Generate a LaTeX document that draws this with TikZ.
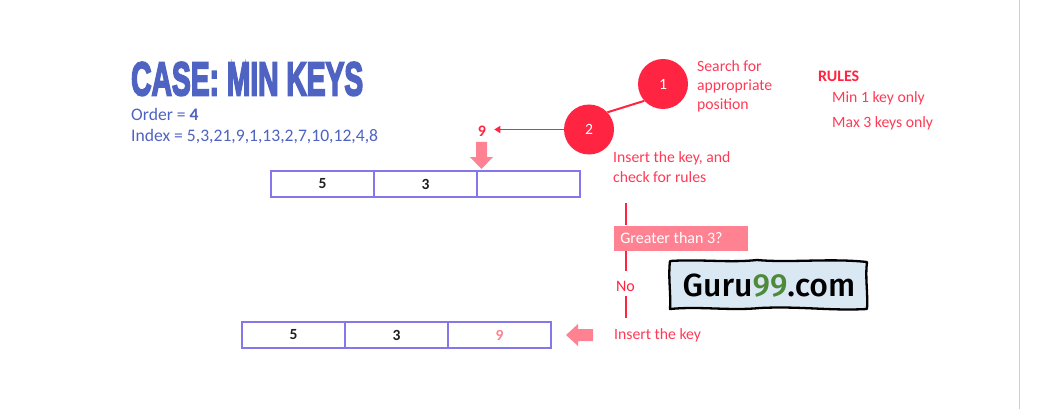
\documentclass[tikz,border=0pt]{standalone}
\usepackage{fontspec}
\usepackage{graphicx}
\usetikzlibrary{arrows.meta}
\setmainfont{Carlito}
\newfontfamily\titlefont[FakeBold=4.5]{Liberation Sans Bold}
\newfontfamily\brandfont{Fira Sans Medium}
\definecolor{redmain}{HTML}{FF2442}
\definecolor{redsoft}{HTML}{FF8292}
\definecolor{cellline}{HTML}{8576EC}
\definecolor{bluetext}{HTML}{4F63C2}
\definecolor{brandbg}{HTML}{DAE8F4}
\definecolor{brandgreen}{HTML}{4E8A3A}
\tikzset{
  x=1pt,y=-1pt,
  cell/.style={draw=cellline,line width=1.3pt,minimum width=103pt,minimum height=26pt,inner sep=0pt,font=\fontsize{15.5}{17}\selectfont\bfseries,text=black!88},
  redtext/.style={anchor=north west,inner sep=0pt,align=left,text=redmain!90,font=\fontsize{15.7}{19}\selectfont},
  bluelabel/.style={anchor=base west,inner sep=0pt,text=bluetext,font=\fontsize{17.6}{20}\selectfont},
  stepdot/.style={circle,fill=redmain,minimum size=50pt,inner sep=0pt,text=white,font=\fontsize{15.7}{18}\selectfont},
  redline/.style={draw=redmain,line width=2pt},
  softarrow/.style={fill=redsoft,draw=none},
}
\begin{document}
\begin{tikzpicture}
\useasboundingbox (0,0) rectangle (1041,409);
\fill[white] (0,0) rectangle (1041,409);
\draw[black!18,line width=1pt] (1019,0) -- (1019,409);
% title
\node[anchor=north west,inner sep=0pt,text=bluetext] (title) at (131,62) {\resizebox{232pt}{33pt}{\titlefont CASE: MIN KEYS}};
\node[bluelabel] (order) at (131,121) {Order = \textbf{4}};
\node[bluelabel] (index) at (131,142) {Index = 5,3,21,9,1,13,2,7,10,12,4,8};
% top cells
\node[cell] (a1) at (322.5,184) {5};
\node[cell] (a2) at (425.5,184) {3};
\node[cell] (a3) at (528.5,184) {};
% bottom cells
\node[cell] (b1) at (293.5,335) {5};
\node[cell] (b2) at (396.5,335) {3};
\node[cell,text=redsoft] (b3) at (499.5,335) {9};
% steps
\node[stepdot] (s1) at (663,84) {1};
\node[stepdot] (s2) at (589,129.5) {2};
\node[anchor=center,inner sep=1pt,text=redmain,font=\fontsize{16}{18}\selectfont\bfseries] (nine) at (482,131) {9};
\draw[redline] (s1.222) -- (s2.43);
\draw[draw=redmain,line width=1.8pt,shorten >=7pt,-{Stealth[length=6pt,width=7pt,inset=0pt]}] (s2.west) -- (s2.west -| nine.east);
\node[redtext] (t1) at (697,60) {Search for\\appropriate\\position};
\node[redtext] (t2) at (613,151.5) {Insert the key, and\\[0.5pt]check for rules};
\node[anchor=north west,inner sep=0pt,text=redmain,font=\fontsize{16}{18}\selectfont\bfseries] (rules) at (818,71) {RULES};
\node[redtext] (r1) at (832,91) {Min 1 key only};
\node[redtext] (r2) at (832,116) {Max 3 keys only};
% decision
\node[anchor=center,fill=redsoft,minimum width=134pt,minimum height=25pt,inner sep=0pt,text=white,font=\fontsize{16}{18}\selectfont] (gt) at (681,238) {\hspace*{-19pt}Greater than 3?};
\node[anchor=center,inner sep=0pt,text=redmain,font=\fontsize{16}{18}\selectfont] (no) at (625.5,286) {No};
\node[redtext] (ins) at (614,328.5) {Insert the key};
\coordinate (c0) at (626,203);
\coordinate (c1) at (626,271);
\coordinate (c2) at (626,296);
\coordinate (c3) at (626,318);
\draw[redline] (c0) -- (c0 |- gt.north);
\draw[redline] (c1 |- gt.south) -- (c1);
\draw[redline] (c2) -- (c3);
% block arrows
\fill[softarrow] (476,142) -- (487,142) -- (487,157) -- (493,157) -- (481.5,169) -- (470,157) -- (476,157) -- cycle;
\fill[softarrow] (593,329) -- (578,329) -- (578,324) -- (566,335) -- (578,346) -- (578,341) -- (593,341) -- cycle;
% brand
\draw[black,line width=2.3pt,fill=brandbg,line join=round]
  (670,261) .. controls (700,259) and (730,263) .. (757,260)
  .. controls (790,263) and (830,258) .. (867,262)
  .. controls (865,277) and (868,292) .. (867,309)
  .. controls (830,311) and (800,306) .. (760,308)
  .. controls (730,311) and (700,306) .. (670,309)
  .. controls (671,292) and (668,277) .. (670,261) -- cycle;
\node[inner sep=0pt,anchor=center,font=\brandfont\fontsize{32}{36}\selectfont] (brand) at (769,286) {Guru\textcolor{brandgreen}{99}.com};
\end{tikzpicture}
\end{document}
